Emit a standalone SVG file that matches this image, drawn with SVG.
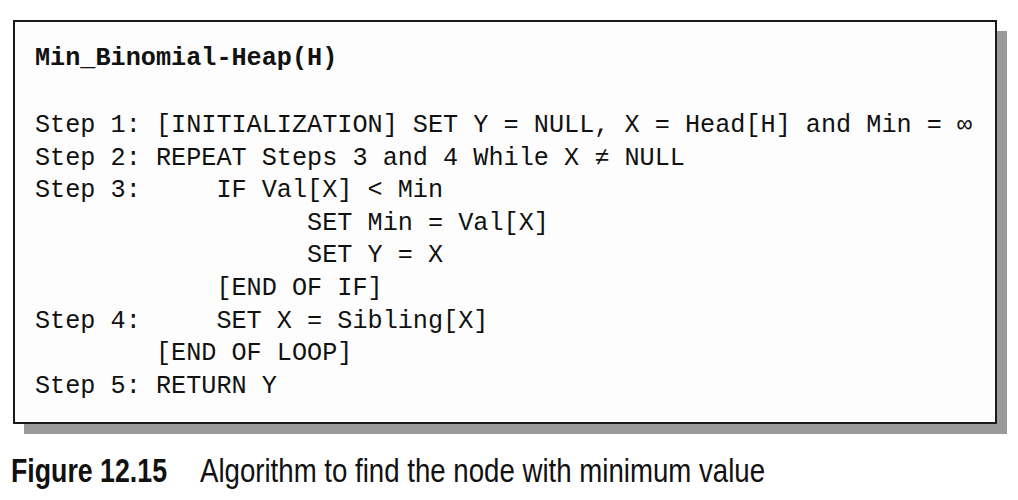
<svg xmlns="http://www.w3.org/2000/svg" width="1018" height="500" viewBox="0 0 1018 500">
<style>
.code{font-family:"Liberation Mono","DejaVu Sans Mono",monospace;font-size:25.2px;fill:#111;white-space:pre}
.title{font-weight:bold}
.cap{font-family:"Liberation Sans Narrow","Liberation Sans",Arial,sans-serif;font-size:34px;fill:#111}
</style>
<rect width="1018" height="500" fill="#fff"/>
<g id="box">
<rect x="24" y="31" width="983" height="403" fill="#9a9a9a"/>
<rect x="14" y="21" width="982" height="402" fill="#fdfdfd" stroke="#1a1a1a" stroke-width="2"/>
</g>
<g id="code" class="code" xml:space="preserve">
<text class="code title" x="35" y="65">Min_Binomial-Heap(H)</text>
<text class="code" x="35" y="132">Step 1: [INITIALIZATION] SET Y = NULL, X = Head[H] and Min = ∞</text>
<text class="code" x="35" y="164.6">Step 2: REPEAT Steps 3 and 4 While X ≠ NULL</text>
<text class="code" x="35" y="197.2">Step 3:     IF Val[X] &lt; Min</text>
<text class="code" x="35" y="229.8">                  SET Min = Val[X]</text>
<text class="code" x="35" y="262.4">                  SET Y = X</text>
<text class="code" x="35" y="295">            [END OF IF]</text>
<text class="code" x="35" y="327.6">Step 4:     SET X = Sibling[X]</text>
<text class="code" x="35" y="360.2">        [END OF LOOP]</text>
<text class="code" x="35" y="392.8">Step 5: RETURN Y</text>
</g>
<g id="caption">
<text class="cap" x="11" y="482" font-weight="bold" textLength="156" lengthAdjust="spacingAndGlyphs">Figure 12.15</text>
<text class="cap" x="200" y="482" textLength="565" lengthAdjust="spacingAndGlyphs">Algorithm to find the node with minimum value</text>
</g>
</svg>
